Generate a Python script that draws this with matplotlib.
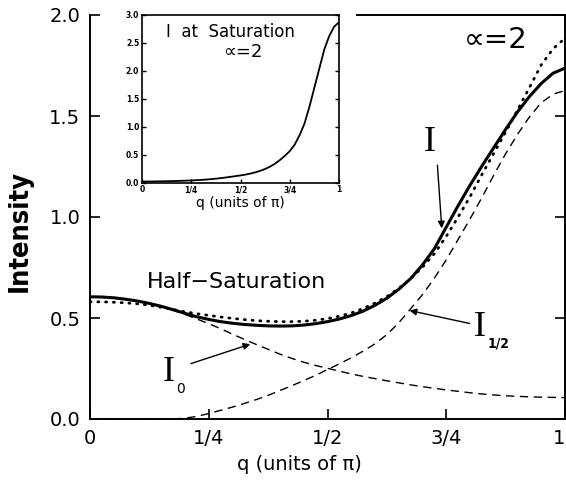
import matplotlib
matplotlib.use("Agg")
import matplotlib.pyplot as plt
import numpy as np

# q in units of pi
q = np.linspace(0, 1, 41)

# total intensity at half-saturation
I_tot = [0.605, 0.604, 0.600, 0.593, 0.584, 0.572, 0.558, 0.541, 0.523, 0.506,
         0.493, 0.482, 0.474, 0.468, 0.464, 0.461, 0.460, 0.461, 0.465, 0.472,
         0.482, 0.495, 0.512, 0.534, 0.563, 0.598, 0.642, 0.695, 0.763, 0.843,
         0.950, 1.056, 1.157, 1.252, 1.343, 1.434, 1.520, 1.596, 1.661, 1.712,
         1.737]
# dotted comparison curve
I_dot = [0.580, 0.580, 0.578, 0.575, 0.570, 0.563, 0.553, 0.542, 0.531, 0.521,
         0.513, 0.505, 0.498, 0.492, 0.487, 0.484, 0.482, 0.482, 0.484, 0.489,
         0.497, 0.509, 0.525, 0.547, 0.574, 0.606, 0.647, 0.694, 0.752, 0.818,
         0.904, 1.000, 1.100, 1.210, 1.315, 1.420, 1.530, 1.640, 1.753, 1.833,
         1.885]
# I_0 component
I_0 = [0.605, 0.604, 0.600, 0.593, 0.584, 0.572, 0.556, 0.538, 0.518, 0.495,
       0.472, 0.447, 0.420, 0.394, 0.369, 0.345, 0.321, 0.300, 0.281, 0.265,
       0.251, 0.237, 0.223, 0.211, 0.200, 0.189, 0.179, 0.169, 0.160, 0.152,
       0.144, 0.137, 0.130, 0.124, 0.119, 0.115, 0.112, 0.110, 0.108, 0.107,
       0.106]
# I_1/2 component
I_half = [0.0, 0.0, 0.0, 0.0, 0.0, 0.0, 0.0, 0.0, 0.004, 0.013,
          0.027, 0.043, 0.059, 0.077, 0.096, 0.117, 0.141, 0.165, 0.190, 0.216,
          0.245, 0.273, 0.303, 0.336, 0.372, 0.418, 0.476, 0.546, 0.616, 0.697,
          0.788, 0.889, 0.990, 1.096, 1.207, 1.313, 1.409, 1.495, 1.566, 1.608,
          1.626]
# intensity at saturation (inset)
I_sat = [0.020, 0.021, 0.022, 0.024, 0.025, 0.027, 0.029, 0.031, 0.034, 0.037,
         0.040, 0.045, 0.050, 0.056, 0.063, 0.072, 0.082, 0.093, 0.105, 0.118,
         0.130, 0.145, 0.163, 0.185, 0.212, 0.245, 0.288, 0.340, 0.405, 0.480,
         0.565, 0.680, 0.850, 1.060, 1.360, 1.700, 2.040, 2.380, 2.620, 2.790,
         2.870]

xt = [0, 0.25, 0.5, 0.75, 1]
xtl = ['0', '1/4', '1/2', '3/4', '1']

serif = 'Liberation Serif'

fig = plt.figure(figsize=(5.66, 4.82), dpi=100)
ax = fig.add_axes([90/566, 1-419/482, 475/566, 404/482])

ax.plot(q, I_tot, color='k', lw=2.2)
ax.plot(q, I_dot, color='k', lw=2.0, linestyle=(0, (0.4, 2.4)), dash_capstyle='round')
ax.plot(q, I_0, color='k', lw=1.0, linestyle=(0, (6, 4)))
ax.plot(q, I_half, color='k', lw=1.0, linestyle=(0, (6, 4)))

ax.set_xlim(0, 1)
ax.set_ylim(0, 2)
ax.set_xticks(xt)
ax.set_xticklabels(xtl)
ax.set_yticks([0, 0.5, 1.0, 1.5, 2.0])
ax.set_yticklabels(['0.0', '0.5', '1.0', '1.5', '2.0'])
ax.tick_params(direction='in', length=7, width=1.2, labelsize=14,
               left=True, right=True, bottom=True, top=False, pad=7)
ax.get_xticklabels()[-1].set_horizontalalignment('right')
for s in ax.spines.values():
    s.set_linewidth(1.4)
ax.spines['top'].set_bounds(0.562, 1)

ax.set_xlabel('q (units of \u03c0)', fontsize=14)
ax.xaxis.set_label_coords(0.44, -0.09)
ax.set_ylabel('Intensity', fontsize=19.5, fontweight='bold', fontstretch='condensed')
ax.yaxis.set_label_coords(-0.12, 0.465)

ax.text(0.12, 0.68, 'Half\u2212Saturation', fontsize=16, ha='left', va='center')
ax.text(0.855, 1.876, '\u221d=2', fontsize=21, ha='center', va='center')

arr = dict(arrowstyle='-|>', color='k', lw=1.0, mutation_scale=10)
# I label
ax.text(0.716, 1.37, 'I', family=serif, fontsize=26, ha='center', va='center')
ax.annotate('', xy=(0.741, 0.93), xytext=(0.731, 1.27), arrowprops=arr)
# I_0 label
ax.text(0.166, 0.23, 'I', family=serif, fontsize=26, ha='center', va='center')
ax.text(0.19, 0.15, '0', fontsize=10, ha='center', va='center')
ax.annotate('', xy=(0.343, 0.375), xytext=(0.207, 0.27), arrowprops=arr)
# I_1/2 label
ax.text(0.82, 0.455, 'I', family=serif, fontsize=26, ha='center', va='center')
ax.text(0.86, 0.375, '1/2', fontsize=10, fontweight='bold', fontstretch='condensed',
        ha='center', va='center')
ax.annotate('', xy=(0.667, 0.54), xytext=(0.805, 0.47), arrowprops=arr)

# inset: intensity at saturation
axi = fig.add_axes([142/566, 1-182.7/482, 197/566, 167.7/482])
axi.plot(q, I_sat, color='k', lw=1.3)
axi.set_xlim(0, 1)
axi.set_ylim(0, 3)
axi.set_xticks(xt)
axi.set_xticklabels(xtl)
axi.set_yticks(np.arange(0, 3.01, 0.5))
axi.set_yticklabels(['0.0', '0.5', '1.0', '1.5', '2.0', '2.5', '3.0'])
axi.tick_params(direction='in', length=3, width=1, labelsize=5.5, pad=2,
                left=True, right=True, bottom=True, top=False)
for lab in axi.get_xticklabels() + axi.get_yticklabels():
    lab.set_fontweight('bold')
for s in axi.spines.values():
    s.set_linewidth(1.2)
axi.set_xlabel('q (units of \u03c0)', fontsize=10, labelpad=1)
axi.text(0.45, 0.9, 'I  at  Saturation', fontsize=12, ha='center', va='center',
         transform=axi.transAxes)
axi.text(0.51, 0.78, '\u221d=2', fontsize=13, ha='center', va='center',
         transform=axi.transAxes)

fig.savefig('out.png', dpi=100)
